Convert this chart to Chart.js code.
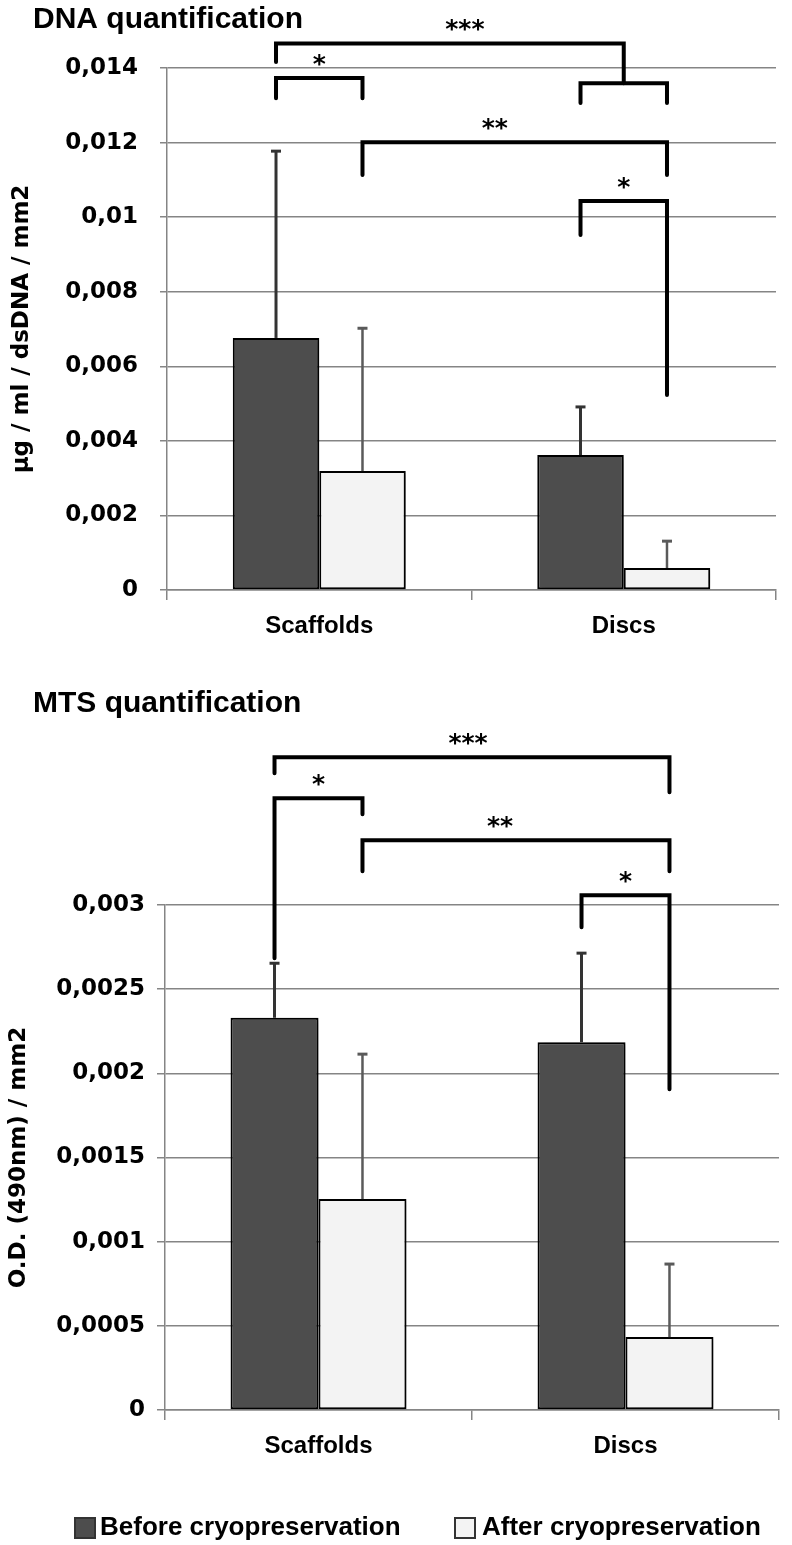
<!DOCTYPE html>
<html>
<head>
<meta charset="utf-8">
<title>DNA and MTS quantification</title>
<script src="https://cdn.jsdelivr.net/npm/chart.js@4.4.0/dist/chart.umd.min.js"></script>
<style>
  html, body { margin: 0; padding: 0; background: #fff; }
  .panel { position: absolute; left: 0; width: 792px; }
  #dnaPanel { top: 0; height: 645px; }
  #mtsPanel { top: 645px; height: 900px; }
</style>
</head>
<body>
<div class="panel" id="dnaPanel"><canvas id="dnaChart" width="792" height="645"></canvas></div>
<div class="panel" id="mtsPanel"><canvas id="mtsChart" width="792" height="900"></canvas></div>
<script>
const groups = ['Scaffolds', 'Discs'];
const seriesNames = ['Before cryopreservation', 'After cryopreservation'];

// DNA quantification (µg/ml/dsDNA/mm2)
const dnaBefore = [0.00676, 0.00362];
const dnaAfter = [0.00319, 0.00059];
const dnaBeforeErr = [0.00501, 0.00129];
const dnaAfterErr = [0.00383, 0.00072];
const dnaTickValues = [0, 0.002, 0.004, 0.006, 0.008, 0.01, 0.012, 0.014];
const dnaTickLabels = ['0', '0,002', '0,004', '0,006', '0,008', '0,01', '0,012', '0,014'];

// MTS quantification (O.D. 490nm / mm2)
const mtsBefore = [0.00233, 0.002185];
const mtsAfter = [0.001253, 0.000433];
const mtsBeforeErr = [0.000324, 0.000529];
const mtsAfterErr = [0.000861, 0.000434];
const mtsTickValues = [0, 0.0005, 0.001, 0.0015, 0.002, 0.0025, 0.003];
const mtsTickLabels = ['0', '0,0005', '0,001', '0,0015', '0,002', '0,0025', '0,003'];

// significance brackets: bars are [series, group], heights in axis units
const dnaBrackets = [
  { from: [0, 0], to: [1, 0], top: 0.01373, leftEnd: 0.01319, rightEnd: 0.01319, label: '*', dx: 0 },
  { from: [0, 0], toPair: [[0, 1], [1, 1]], top: 0.01466, leftEnd: 0.01416, rightEnd: 0.01359, pairEnd: 0.01306, label: '***', dx: 15 },
  { from: [1, 0], to: [1, 1], top: 0.01201, leftEnd: 0.01113, rightEnd: 0.01113, label: '**', dx: -20 },
  { from: [0, 1], to: [1, 1], top: 0.01043, leftEnd: 0.00952, rightEnd: 0.00523, label: '*', dx: 0 }
];
const mtsBrackets = [
  { from: [0, 0], to: [1, 1], top: 0.003878, leftEnd: 0.003783, rightEnd: 0.00367, label: '***', dx: -4 },
  { from: [0, 0], to: [1, 0], top: 0.003634, leftEnd: 0.002684, rightEnd: 0.003539, label: '*', dx: 0 },
  { from: [1, 0], to: [1, 1], top: 0.003385, leftEnd: 0.003201, rightEnd: 0.003201, label: '**', dx: -16 },
  { from: [0, 1], to: [1, 1], top: 0.003058, leftEnd: 0.002868, rightEnd: 0.001906, label: '*', dx: 0 }
];

const darkFill = '#4d4d4d';
const lightFill = '#f3f3f3';
const gridGrey = '#858585';

// bar shadow + upward error bars
function errorBarPlugin(errs) {
  return {
    id: 'errorBars',
    beforeDatasetsDraw(chart) {
      const ctx = chart.ctx;
      ctx.save();
      ctx.shadowColor = 'rgba(0,0,0,0.35)';
      ctx.shadowBlur = 5;
      ctx.shadowOffsetX = 4;
      ctx.shadowOffsetY = 1;
    },
    afterDatasetsDraw(chart) {
      const ctx = chart.ctx;
      ctx.restore();
      const y = chart.scales.y;
      ctx.save();
      chart.data.datasets.forEach((ds, s) => {
        const meta = chart.getDatasetMeta(s);
        const w = s === 0 ? 3 : 2.5;
        ctx.strokeStyle = s === 0 ? '#333' : '#5a5a5a';
        meta.data.forEach((bar, i) => {
          const yTop = y.getPixelForValue(ds.data[i] + errs[s][i]);
          ctx.lineWidth = w;
          ctx.beginPath();
          ctx.moveTo(bar.x, bar.y);
          ctx.lineTo(bar.x, yTop);
          ctx.stroke();
          ctx.lineWidth = 3;
          ctx.beginPath();
          ctx.moveTo(bar.x - 5, yTop);
          ctx.lineTo(bar.x + 5, yTop);
          ctx.stroke();
        });
      });
      ctx.restore();
    }
  };
}

function bracketPlugin(brackets) {
  return {
    id: 'sigBrackets',
    afterDraw(chart) {
      const ctx = chart.ctx;
      const y = chart.scales.y;
      const barX = (p) => chart.getDatasetMeta(p[0]).data[p[1]].x;
      ctx.save();
      ctx.strokeStyle = '#000';
      ctx.lineWidth = 4;
      ctx.lineCap = 'round';
      ctx.lineJoin = 'miter';
      ctx.fillStyle = '#000';
      ctx.font = 'bold 25px "DejaVu Sans"';
      ctx.textAlign = 'center';
      ctx.textBaseline = 'alphabetic';
      brackets.forEach(b => {
        const xl = barX(b.from);
        let xr;
        if (b.toPair) {
          xr = (barX(b.toPair[0]) + barX(b.toPair[1])) / 2;
        } else {
          xr = barX(b.to);
        }
        const yt = y.getPixelForValue(b.top);
        ctx.beginPath();
        ctx.moveTo(xl, y.getPixelForValue(b.leftEnd));
        ctx.lineTo(xl, yt);
        ctx.lineTo(xr, yt);
        ctx.lineTo(xr, y.getPixelForValue(b.rightEnd));
        ctx.stroke();
        if (b.toPair) {
          const xa = barX(b.toPair[0]), xb = barX(b.toPair[1]);
          const ym = y.getPixelForValue(b.rightEnd), ye = y.getPixelForValue(b.pairEnd);
          ctx.beginPath();
          ctx.moveTo(xa, ye);
          ctx.lineTo(xa, ym);
          ctx.lineTo(xb, ym);
          ctx.lineTo(xb, ye);
          ctx.stroke();
        }
        ctx.fillText(b.label, (xl + xr) / 2 + b.dx, yt - 6);
      });
      ctx.restore();
    }
  };
}

function titlePlugin(text, x, y) {
  return {
    id: 'panelTitle',
    afterDraw(chart) {
      const ctx = chart.ctx;
      ctx.save();
      ctx.fillStyle = '#000';
      ctx.font = 'bold 30px "Liberation Sans", Arial, sans-serif';
      ctx.textAlign = 'left';
      ctx.textBaseline = 'alphabetic';
      ctx.fillText(text, x, y);
      ctx.restore();
    }
  };
}

const legendPlugin = {
  id: 'bottomLegend',
  afterDraw(chart) {
    const ctx = chart.ctx;
    const slots = [[75, 100], [455, 482]];
    const yc = 883;
    ctx.save();
    ctx.font = 'bold 26px "Liberation Sans", Arial, sans-serif';
    ctx.textBaseline = 'middle';
    ctx.textAlign = 'left';
    chart.data.datasets.forEach((ds, i) => {
      const [bx, tx] = slots[i];
      ctx.fillStyle = ds.backgroundColor;
      ctx.fillRect(bx, yc - 10, 20, 20);
      ctx.strokeStyle = '#333';
      ctx.lineWidth = 2;
      ctx.strokeRect(bx, yc - 10, 20, 20);
      ctx.fillStyle = '#000';
      ctx.fillText(ds.label, tx, yc);
    });
    ctx.restore();
  }
};

function makeChart(canvasId, cfg) {
  const ctx = document.getElementById(canvasId).getContext('2d');
  return new Chart(ctx, {
    type: 'bar',
    data: {
      labels: groups,
      datasets: [{
        label: seriesNames[0],
        data: cfg.before,
        backgroundColor: darkFill,
        borderColor: '#000',
        borderWidth: 2,
        borderSkipped: false,
        categoryPercentage: cfg.catPct,
        barPercentage: 1
      }, {
        label: seriesNames[1],
        data: cfg.after,
        backgroundColor: lightFill,
        borderColor: '#000',
        borderWidth: 2,
        borderSkipped: false,
        categoryPercentage: cfg.catPct,
        barPercentage: 1
      }]
    },
    options: {
      responsive: false,
      animation: false,
      devicePixelRatio: 1,
      layout: { padding: cfg.padding },
      plugins: {
        legend: { display: false },
        tooltip: { enabled: false }
      },
      scales: {
        x: {
          afterFit: s => { s.height = 45; },
          ticks: {
            color: '#000',
            padding: 12,
            font: { family: '"Liberation Sans", Arial, sans-serif', weight: 'bold', size: 24 }
          },
          grid: { offset: true, drawOnChartArea: false, color: gridGrey, lineWidth: 1.5, tickLength: 10 },
          border: { color: gridGrey, width: 1.5 }
        },
        y: {
          min: 0,
          max: cfg.tickValues[cfg.tickValues.length - 1],
          afterBuildTicks: s => { s.ticks = cfg.tickValues.map(v => ({ value: v })); },
          afterFit: s => { s.width = cfg.axisLeft; },
          ticks: {
            color: '#000',
            padding: cfg.tickPad,
            callback: (v, i) => cfg.tickLabels[i],
            font: { family: '"DejaVu Sans", sans-serif', weight: 'bold', size: 23 }
          },
          grid: { color: gridGrey, lineWidth: 1.5, tickLength: cfg.tickLen },
          border: { color: gridGrey, width: 1.5 },
          title: {
            display: true,
            text: cfg.yTitle,
            color: '#000',
            padding: { top: cfg.titlePad, bottom: 0 },
            font: { family: '"DejaVu Sans", sans-serif', weight: 'bold', size: 23 }
          }
        }
      }
    },
    plugins: cfg.plugins
  });
}

makeChart('dnaChart', {
  before: dnaBefore,
  after: dnaAfter,
  tickValues: dnaTickValues,
  tickLabels: dnaTickLabels,
  yTitle: 'μg / ml / dsDNA / mm2',
  catPct: 0.568,
  axisLeft: 167,
  tickPad: 22,
  tickLen: 7,
  titlePad: 8,
  padding: { top: 68, right: 16, bottom: 10, left: 0 },
  plugins: [errorBarPlugin([dnaBeforeErr, dnaAfterErr]), bracketPlugin(dnaBrackets), titlePlugin('DNA quantification', 33, 28)]
});

makeChart('mtsChart', {
  before: mtsBefore,
  after: mtsAfter,
  tickValues: mtsTickValues,
  tickLabels: mtsTickLabels,
  yTitle: 'O.D. (490nm) / mm2',
  catPct: 0.573,
  axisLeft: 165,
  tickPad: 12,
  tickLen: 8,
  titlePad: 5,
  padding: { top: 260, right: 13, bottom: 90, left: 0 },
  plugins: [errorBarPlugin([mtsBeforeErr, mtsAfterErr]), bracketPlugin(mtsBrackets), titlePlugin('MTS quantification', 33, 67), legendPlugin]
});
</script>
</body>
</html>
